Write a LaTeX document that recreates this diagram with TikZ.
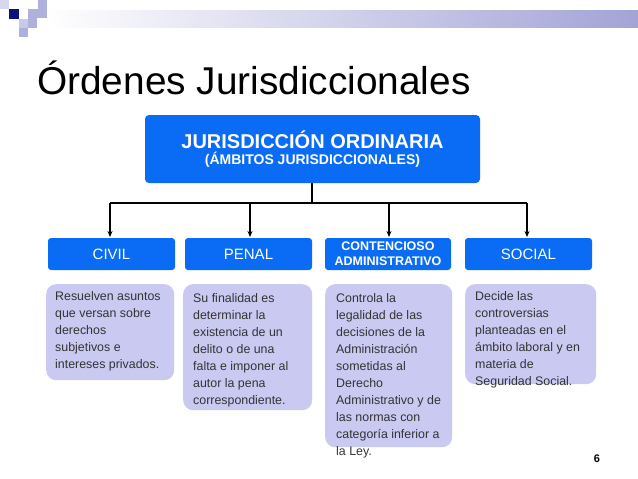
\documentclass[tikz,border=0pt]{standalone}
\usepackage{fontspec}
\usetikzlibrary{arrows.meta}
\setmainfont{Liberation Sans}
\definecolor{hdr}{HTML}{0A6CF5}
\definecolor{cat}{HTML}{0A6CF5}
\definecolor{lav}{HTML}{C9C9F2}
\definecolor{barc}{HTML}{A3A3D6}
\definecolor{navy}{HTML}{10107A}
\definecolor{sq}{HTML}{B0B0DC}
\definecolor{txt}{HTML}{333333}
\begin{document}
\begin{tikzpicture}[x=1pt,y=-1pt,
  catbox/.style={fill=cat,rounded corners=3pt,text=white,font=\fontsize{15}{17}\selectfont,align=center,inner sep=0pt},
  descbox/.style={fill=lav,rounded corners=10pt,text=txt,font=\fontsize{12.4}{17}\selectfont,align=left,inner sep=0pt},
  arr/.style={-{Stealth[length=6pt,width=5pt]},line width=1.2pt}]
\useasboundingbox (0,0) rectangle (638,479);
\fill[white] (0,0) rectangle (638,479);
% top decoration
\shade[left color=white,right color=barc] (45,10) rectangle (638,27);
\fill[navy] (9,9) rectangle (19,19);
\fill[sq] (38,0) rectangle (47,9);
\fill[sq] (28,9) rectangle (47,18);
\fill[sq!70] (19,19) rectangle (28,28);
\fill[sq] (28,18) rectangle (37,28);
\fill[sq] (19,28) rectangle (28,37);
\fill[sq!50] (0,0) rectangle (9,9);
\node[anchor=base west,font=\fontsize{38.8}{42}\selectfont,inner sep=0pt] (title) at (37,94) {Órdenes Jurisdiccionales};
\node[fill=hdr,rounded corners=4pt,minimum width=335pt,minimum height=68pt,text=white,align=center,inner sep=0pt] (main) at (312.5,149)
 {{\fontsize{20}{22}\selectfont\bfseries JURISDICCIÓN ORDINARIA}\\[2pt]{\fontsize{14}{16}\selectfont\bfseries (ÁMBITOS JURISDICCIONALES)}};
\node[catbox,minimum width=127pt,minimum height=32pt] (civil) at (111.5,254) {CIVIL};
\node[catbox,minimum width=127pt,minimum height=32pt] (penal) at (248.5,254) {PENAL};
\node[catbox,minimum width=126pt,minimum height=32pt,font=\fontsize{12.5}{15}\selectfont\bfseries] (cont) at (388,254) {CONTENCIOSO\\ADMINISTRATIVO};
\node[catbox,minimum width=127pt,minimum height=32pt] (social) at (528.5,254) {SOCIAL};
\coordinate (j) at (312,203);
\draw[line width=1.2pt] (main.south -| j) -- (j);
\draw[line width=1.2pt] (110,203) -- (527,203);
\foreach \n/\x in {civil/110,penal/250,cont/389,social/527}
  \draw[arr] (\x,203) -- (\x,237);
\node[descbox,minimum width=128pt,minimum height=96pt,anchor=north west] (dc) at (46,284) {};
\node[anchor=north west,descbox,fill=none] at (55,291) {Resuelven asuntos\\que versan sobre\\derechos\\subjetivos e\\intereses privados.};
\node[descbox,minimum width=129pt,minimum height=126pt,anchor=north west] (dp) at (183,284) {};
\node[anchor=north west,descbox,fill=none] at (193,293) {Su finalidad es\\determinar la\\existencia de un\\delito o de una\\falta e imponer al\\autor la pena\\correspondiente.};
\node[descbox,minimum width=127pt,minimum height=163pt,anchor=north west] (dk) at (325,284) {};
\node[anchor=north west,descbox,fill=none] at (336,293) {Controla la\\legalidad de las\\decisiones de la\\Administración\\sometidas al\\Derecho\\Administrativo y de\\las normas con\\categoría inferior a\\la Ley.};
\node[descbox,minimum width=131pt,minimum height=100pt,anchor=north west] (ds) at (465,284) {};
\node[anchor=north west,descbox,fill=none] at (475,291) {Decide las\\controversias\\planteadas en el\\ámbito laboral y en\\materia de\\Seguridad Social.};
\node[font=\fontsize{11}{12}\selectfont\bfseries,anchor=base] (pg) at (597,462) {6};
\end{tikzpicture}
\end{document}
